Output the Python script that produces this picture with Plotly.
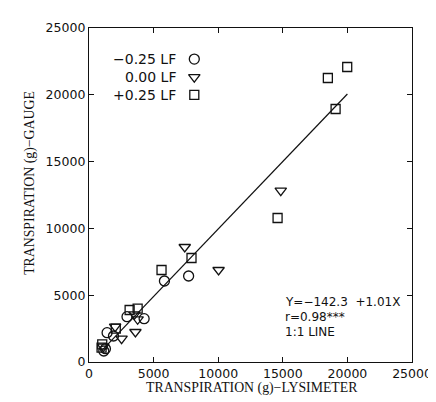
import plotly.graph_objects as go

# ---- data ----
circle_x = [1145, 1272, 1400, 1894, 2942, 4266, 5838, 7710]
circle_y = [823, 995, 2193, 1946, 3391, 3241, 6063, 6437]

tri_x = [1100, 2021, 2522, 3593, 3518, 3765, 7410, 10030, 14843]
tri_y = [1150, 2642, 1744, 2246, 3570, 3196, 8608, 6886, 12822]

sq_x = [973, 1025, 2073, 3144, 3765, 5614, 7934, 14596, 19087, 18488, 19985]
sq_y = [1070, 1325, 2493, 3892, 3990, 6886, 7784, 10778, 18937, 21257, 22080]

reg_intercept = -142.3
reg_slope = 1.01
line_x = [970, 20000]
line_y = [reg_intercept + reg_slope * v for v in line_x]

tick_vals = [0, 5000, 10000, 15000, 20000, 25000]
tick_text = ["0", "5000", "10000", "15000", "20000", "25000"]

legend_labels = ["\u22120.25 LF", "0.00 LF", "+0.25 LF"]
legend_symbols = ["circle-open", "triangle-down-open", "square-open"]
legend_sizes = [10, 10, 9]

SERIF = "Liberation Serif"
SANS = "DejaVu Sans"
INK = "#111111"

fig = go.Figure()

fig.add_trace(go.Scatter(x=line_x, y=line_y, mode="lines",
                         line=dict(color=INK, width=1.2), showlegend=False,
                         hoverinfo="skip"))
mk = dict(color=INK, line=dict(color=INK, width=1.3))
fig.add_trace(go.Scatter(x=circle_x, y=circle_y, mode="markers", showlegend=False,
                         marker=dict(symbol="circle-open", size=10, **mk)))
fig.add_trace(go.Scatter(x=tri_x, y=tri_y, mode="markers", showlegend=False,
                         marker=dict(symbol="triangle-down-open", size=10, **mk)))
fig.add_trace(go.Scatter(x=sq_x, y=sq_y, mode="markers", showlegend=False,
                         marker=dict(symbol="square-open", size=9, **mk)))

# legend markers on an overlay 0..1 axis pair
leg_y = [0.907, 0.853, 0.800]
for s, sz, yy in zip(legend_symbols, legend_sizes, leg_y):
    fig.add_trace(go.Scatter(x=[0.326], y=[yy], xaxis="x2", yaxis="y2",
                             mode="markers", showlegend=False, hoverinfo="skip",
                             marker=dict(symbol=s, size=sz, color=INK,
                                         line=dict(color=INK, width=1.3))))

annotations = []
for lab, yy in zip(legend_labels, leg_y):
    annotations.append(dict(x=0.274, y=yy, xref="paper", yref="paper",
                            text=lab, showarrow=False, xanchor="right",
                            yanchor="middle",
                            font=dict(family=SANS, size=14, color=INK)))

stats = ["Y=\u2212142.3  +1.01X", "r=0.98***", "1:1 LINE"]
stats_y = [0.180, 0.135, 0.090]
for t, yy in zip(stats, stats_y):
    annotations.append(dict(x=0.600, y=yy, xref="paper", yref="paper",
                            text=t, showarrow=False, xanchor="left",
                            yanchor="middle",
                            font=dict(family=SANS, size=12, color=INK)))

# axis titles
annotations.append(dict(x=0.505, y=-0.078, xref="paper", yref="paper",
                        text="TRANSPIRATION (g)\u2212LYSIMETER", showarrow=False,
                        xanchor="center", yanchor="middle",
                        font=dict(family=SERIF, size=13.8, color=INK)))
annotations.append(dict(x=-0.183, y=0.536, xref="paper", yref="paper",
                        text="TRANSPIRATION (g)\u2212GAUGE", showarrow=False,
                        textangle=-90, xanchor="center", yanchor="middle",
                        font=dict(family=SERIF, size=13.8, color=INK)))

axis_common = dict(range=[0, 25000], tickvals=tick_vals, ticktext=tick_text,
                   ticks="inside", ticklen=5, tickwidth=1, tickcolor=INK,
                   showline=True, linecolor=INK, linewidth=1.3, mirror="ticks",
                   showgrid=False, zeroline=False,
                   tickfont=dict(family=SANS, size=12.5, color=INK))

fig.update_layout(
    width=436, height=402,
    margin=dict(l=81, r=21, t=20, b=48),
    paper_bgcolor="white", plot_bgcolor="white",
    xaxis=dict(**axis_common),
    yaxis=dict(**axis_common),
    xaxis2=dict(range=[0, 1], overlaying="x", visible=False),
    yaxis2=dict(range=[0, 1], overlaying="y", visible=False),
    annotations=annotations,
)

fig.write_html("out.html")
